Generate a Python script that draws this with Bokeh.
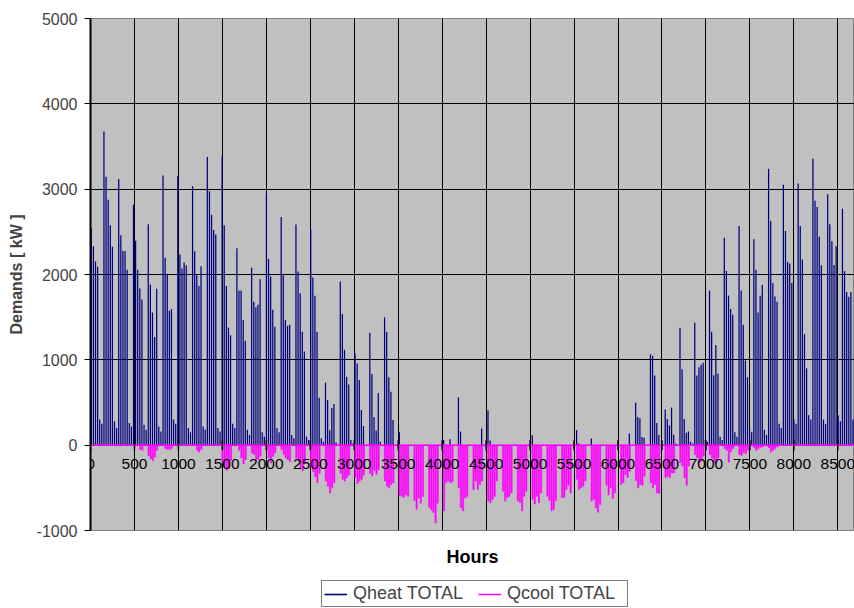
import math
from bokeh.plotting import figure
from bokeh.layouts import column
from bokeh.core.properties import value
from bokeh.models import (ColumnDataSource, Legend, LegendItem, Range1d,
                          FixedTicker, LabelSet, Label)
from bokeh.embed import file_html
from bokeh.resources import INLINE

FONT = "Liberation Sans"
N_DAYS = 365
HOURS_PER_DAY = 24
YEAR_HOURS = [0, 8760]
HEAT_PEAK_HOUR = 9      # hour of the day at which the heating peak occurs
COOL_PEAK_HOUR = 13     # hour of the day at which the cooling peak occurs
WEEKEND_DAYS = (4, 5)   # day-of-year modulo 7 values that are weekend days

# Daily peak heating demand [kW] on workdays, one list per week
heat_workdays = [
    [2540, 2330, 2155, 2090],
    [3675, 3145, 2875, 2577, 2325], [3120, 2460, 2277, 2273, 2057],
    [2817, 2395, 2057, 1836, 1706], [2588, 1883, 1556, 1269, 1832],
    [3160, 2195, 2009, 1576, 1596], [3152, 2234, 2069, 2140, 2108],
    [3034, 2273, 1990, 1864, 2096], [3377, 2975, 2699, 2522, 2470],
    [3384, 2577, 1864, 1379, 1288], [2309, 1812, 1812, 1466, 1223],
    [2078, 1682, 1615, 1646, 1944], [2950, 2183, 1976, 1588, 1388],
    [2673, 1987, 1466, 1399, 1407], [2587, 2034, 1780, 1329, 1098],
    [2528, 1964, 1752, 1329, 557], [733, 529, 176, 435, 482],
    [1917, 1537, 1117, 800, 710], [1078, 956, 764, 412, 223],
    [1317, 835, 329, 172, 612], [1497, 1325, 796, 627, 294],
    [150, 0, 0, 0, 0], [0, 0, 0, 0, 0],
    [0, 0, 0, 0, 0], [60, 0, 0, 70, 0],
    [560, 160, 0, 0, 0], [0, 0, 0, 0, 195],
    [410, 55, 0, 0, 0], [0, 0, 0, 0, 0],
    [0, 0, 0, 0, 0], [115, 0, 0, 0, 0],
    [0, 0, 0, 0, 0], [0, 0, 0, 0, 0],
    [177, 20, 0, 0, 0], [79, 0, 0, 0, 0],
    [0, 0, 0, 0, 0], [0, 0, 0, 0, 137],
    [496, 331, 315, 95, 87], [1064, 1048, 815, 260, 118],
    [418, 307, 232, 441, 122], [1375, 890, 307, 146, 161],
    [1438, 815, 914, 941, 965], [1812, 1328, 820, 1174, 839],
    [2431, 2041, 1753, 1596, 1529], [2569, 1812, 1411, 993, 796],
    [2414, 2055, 1556, 1751, 1880], [3239, 2628, 1899, 1741, 1682],
    [3053, 2510, 2147, 2128, 1899], [3065, 2569, 2175, 1300, 900],
    [3357, 2864, 2790, 2443, 2108], [2940, 2590, 2390, 2110, 2330],
    [2770, 2040, 1795, 1740, 1795],
    [2500, 2000],
]

# Daily peak heating demand [kW] on weekend days (two per week)
heat_weekends = [
    [300, 250], [280, 200], [260, 220], [240, 180], [220, 160], [300, 250],
    [200, 150], [220, 180], [200, 160], [250, 200], [180, 120], [150, 100],
    [200, 150], [120, 80], [100, 60], [80, 40], [30, 0], [60, 20],
    [0, 0], [40, 0], [0, 0], [0, 0], [0, 0], [0, 0],
    [0, 0], [0, 0], [0, 0], [0, 0], [0, 0], [0, 0],
    [0, 0], [0, 0], [0, 0], [0, 0], [0, 0], [0, 0],
    [0, 0], [0, 0], [0, 0], [20, 0], [40, 20], [60, 40],
    [100, 60], [150, 100], [200, 150], [180, 120], [250, 200], [300, 250],
    [350, 300], [300, 250], [350, 280], [300, 250],
]

# Daily peak cooling demand [kW] on workdays (negative), one list per week
cool_workdays = [
    [0, 0, 0, 0],
    [0, 0, 0, 0, 0], [0, 0, 0, 0, 0],
    [0, 0, 0, -50, -60], [-120, -160, -180, -140, -60],
    [0, -40, -50, -50, -40], [0, 0, 0, 0, 0],
    [0, 0, -60, -80, -50], [0, 0, 0, 0, 0],
    [-200, -240, -295, -275, -180], [0, -60, -150, -220, -170],
    [-90, -110, -170, -170, -130], [-50, -150, -210, -130, -90],
    [-50, -110, -150, -170, -190], [-150, -190, -260, -300, -220],
    [-260, -310, -370, -440, -330], [-420, -480, -560, -500, -440],
    [-330, -400, -420, -380, -350], [-380, -450, -420, -400, -350],
    [-330, -360, -300, -340, -290], [-420, -480, -500, -460, -440],
    [-590, -600, -610, -580, -600], [-650, -750, -620, -680, -600],
    [-730, -760, -790, -910, -680], [-770, -440, -420, -440, -430],
    [-500, -730, -770, -620, -600], [-520, -420, -520, -460, -420],
    [-655, -675, -635, -600, -420], [-540, -655, -615, -600, -560],
    [-655, -675, -770, -600, -540], [-635, -690, -600, -675, -560],
    [-600, -650, -770, -750, -650], [-615, -610, -520, -470, -560],
    [-400, -520, -500, -480, -420], [-655, -635, -735, -785, -695],
    [-470, -580, -500, -625, -560], [-460, -440, -345, -380, -305],
    [-415, -500, -460, -470, -365], [-440, -500, -460, -560, -565],
    [-380, -365, -380, -325, -325], [-205, -245, -380, -470, -245],
    [-110, -150, -205, -190, -130], [-110, -150, -200, -210, -150],
    [-40, -60, -200, -80, -40], [-110, -120, -90, -100, -60],
    [-30, -60, -40, -30, -20], [-30, -80, -60, -40, -20],
    [0, 0, 0, 0, 0], [0, 0, 0, 0, 0], [0, 0, 0, 0, 0],
    [0, 0, 0, 0, 0], [0, 0, 0, 0, 0],
    [0, 0],
]

x_ticks = list(range(0, 9000, 500))
y_ticks = list(range(-1000, 6000, 1000))
y_tick_labels = {t: str(t) for t in y_ticks}

HEAT_COLOR = "#000080"
COOL_COLOR = "#FF00FF"

# ---- build the per-day series from the weekly lists ----
heat_work_flat = [v for wk in heat_workdays for v in wk]
heat_wkend_flat = [v for wk in heat_weekends for v in wk]
cool_work_flat = [v for wk in cool_workdays for v in wk]

heat_day, cool_day = [], []
iw = ie = 0
for d in range(N_DAYS):
    if d % 7 in WEEKEND_DAYS:
        heat_day.append(heat_wkend_flat[ie]); cool_day.append(0); ie += 1
    else:
        heat_day.append(heat_work_flat[iw]); cool_day.append(cool_work_flat[iw]); iw += 1

heat_src = ColumnDataSource(dict(
    x=[d * HOURS_PER_DAY + HEAT_PEAK_HOUR for d in range(N_DAYS)],
    y0=[0] * N_DAYS, y1=heat_day))
cool_src = ColumnDataSource(dict(
    x=[d * HOURS_PER_DAY + COOL_PEAK_HOUR for d in range(N_DAYS)],
    top=[0] * N_DAYS, bottom=cool_day))
cool_zero_src = ColumnDataSource(dict(x=YEAR_HOURS, y=[0, 0]))
xtick_src = ColumnDataSource(dict(x=x_ticks, y=[0] * len(x_ticks),
                                  text=[str(t) for t in x_ticks]))

# ------------------------------------------------------------------ main plot
p = figure(width=854, height=540, output_backend="svg", toolbar_location=None,
           x_range=Range1d(0, 8690), y_range=Range1d(-1000, 5000),
           min_border_left=90, min_border_top=18, min_border_right=0,
           min_border_bottom=10)
p.background_fill_color = "#C0C0C0"
p.border_fill_color = "white"
p.outline_line_color = "#808080"

p.segment(x0="x", y0="y0", x1="x", y1="y1", source=heat_src,
          line_color=HEAT_COLOR, line_width=1.25)
p.vbar(x="x", top="top", bottom="bottom", width=14, source=cool_src,
       fill_color=COOL_COLOR, line_color=COOL_COLOR, line_width=0.6)
p.line(x="x", y="y", source=cool_zero_src, line_color=COOL_COLOR, line_width=1.5)

# tick marks and labels of the hour axis, which crosses at 0
p.scatter(x="x", y="y", source=xtick_src, marker="dash", angle=math.pi / 2,
          size=10, line_color="black", line_width=1.5)
p.add_layout(LabelSet(x="x", y="y", text="text", source=xtick_src,
                      text_align="center", text_baseline="top", y_offset=-14,
                      text_font=value(FONT), text_font_size=value("15.5px"),
                      text_color="black"))

p.xgrid.ticker = FixedTicker(ticks=x_ticks)
p.ygrid.ticker = FixedTicker(ticks=y_ticks)
for g in (p.xgrid[0], p.ygrid[0]):
    g.grid_line_color = "black"
    g.grid_line_width = 1
    g.grid_line_alpha = 1

p.xaxis.visible = False

ya = p.yaxis[0]
ya.ticker = FixedTicker(ticks=y_ticks)
ya.major_label_overrides = y_tick_labels
ya.axis_line_color = "black"
ya.axis_line_width = 2
ya.major_tick_out = 6
ya.major_tick_in = 0
ya.minor_tick_line_color = None
ya.major_label_text_font = FONT
ya.major_label_text_font_size = "16px"
ya.major_label_standoff = 7
ya.axis_label = "Demands [ kW ]"
ya.axis_label_text_font = FONT
ya.axis_label_text_font_style = "bold"
ya.axis_label_text_font_size = "16px"
ya.axis_label_standoff = 9

# ------------------------------------------------- axis title + legend strip
# The strip shares the hour axis; its value range lies far above the data, so
# the series drawn here only serve as legend keys.
STRIP_Y = (10000, 10068)
p2 = figure(width=854, height=68, output_backend="svg", toolbar_location=None,
            x_range=p.x_range, y_range=Range1d(*STRIP_Y),
            min_border_left=90, min_border_top=0, min_border_right=0,
            min_border_bottom=0)
p2.xaxis.visible = False
p2.yaxis.visible = False
p2.grid.visible = False
p2.outline_line_color = None
p2.background_fill_color = "white"
p2.border_fill_color = "white"

p2.add_layout(Label(x=(p.x_range.start + p.x_range.end) / 2, y=STRIP_Y[0] + 52,
                    text="Hours", text_align="center", text_baseline="middle",
                    text_font=FONT, text_font_style="bold",
                    text_font_size="18px", text_color="black"))

heat_key = p2.segment(x0="x", y0="y0", x1="x", y1="y1", source=heat_src,
                      line_color=HEAT_COLOR, line_width=1.6)
cool_key = p2.line(x="x", y="y", source=cool_zero_src, line_color=COOL_COLOR,
                   line_width=1.5)
legend = Legend(items=[LegendItem(label="Qheat TOTAL", renderers=[heat_key]),
                       LegendItem(label="Qcool TOTAL", renderers=[cool_key])],
                orientation="horizontal", location=(231, 1),
                border_line_color="black", border_line_width=1,
                background_fill_color="white", background_fill_alpha=1,
                label_text_font=FONT, label_text_font_size="18px",
                glyph_width=23, glyph_height=16, label_standoff=6,
                label_width=118, spacing=7, padding=2, margin=0)
p2.add_layout(legend, "center")

layout = column(p, p2, spacing=0)
open("out.html", "w").write(file_html(layout, INLINE))
